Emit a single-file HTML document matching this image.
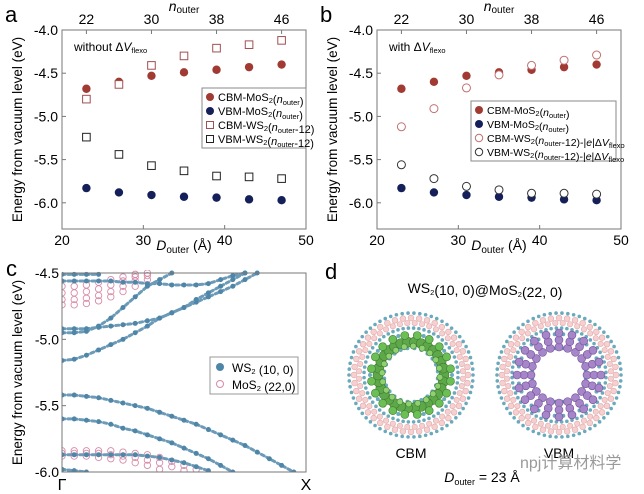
<!DOCTYPE html>
<html><head><meta charset="utf-8">
<style>
html,body{margin:0;padding:0;background:#fff;}
svg{display:block;font-family:"Liberation Sans","Noto Sans CJK SC",sans-serif;}
</style></head>
<body>
<svg id="fig" width="644" height="494" viewBox="0 0 644 494" xmlns="http://www.w3.org/2000/svg">
<g id="gA"></g>
<g id="gB"></g>
<g id="gC"></g>
<g id="gD"></g>
</svg>
<script>
// ---- data panels a/b ----
const dOuter = [23, 27, 31, 35, 39, 43, 47];
const nTicks = [22, 30, 38, 46];
const xTicks = [20, 30, 40, 50];
const yTicks = [-4.0, -4.5, -5.0, -5.5, -6.0];
const cbmMoS2 = [-4.68, -4.60, -4.53, -4.49, -4.46, -4.43, -4.40];
const vbmMoS2 = [-5.83, -5.88, -5.91, -5.93, -5.94, -5.96, -5.97];
const cbmWS2a = [-4.80, -4.63, -4.41, -4.30, -4.21, -4.17, -4.12];
const vbmWS2a = [-5.24, -5.44, -5.57, -5.63, -5.69, -5.70, -5.72];
const cbmWS2b = [-5.12, -4.91, -4.67, -4.52, -4.41, -4.35, -4.29];
const vbmWS2b = [-5.56, -5.72, -5.81, -5.85, -5.89, -5.89, -5.90];
// ---- data panel c (energies at k = 0,0.05,...,1; null = off-scale) ----
const kSteps = 21;
const cTicks = [-4.5, -5.0, -5.5, -6.0];
const wsBandVB1 = [-5.42,-5.42,-5.43,-5.44,-5.46,-5.48,-5.50,-5.52,-5.55,-5.58,-5.61,-5.64,-5.68,-5.72,-5.76,-5.80,-5.85,-5.90,-5.95,-6.0,null];
const wsBandVB2 = [-5.60,-5.60,-5.61,-5.62,-5.64,-5.67,-5.69,-5.72,-5.75,-5.78,-5.82,-5.86,-5.90,-5.95,-6.0];
const wsBandVB3 = [-5.87,-5.87,-5.87,-5.87,-5.87,-5.87,-5.87,-5.88,-5.89,-5.91,-5.93,-5.96,-5.99];
const wsBandVB4 = [-5.98,-5.99,-6.0];
const wsBandCB1 = [-5.16,-5.15,-5.12,-5.08,-5.04,-5.00,-4.95,-4.90,-4.84,-4.80,-4.76,-4.72,-4.68,-4.64,-4.60,-4.55,-4.50];
const wsBandCB2 = [-4.92,-4.92,-4.92,-4.91,-4.90,-4.89,-4.88,-4.86,-4.84,-4.80,-4.76,-4.70,-4.65,-4.60,-4.55,-4.50];
const wsBandCB3 = [-4.95,-4.95,-4.94,-4.90,-4.84,-4.76,-4.68,-4.60,-4.55,-4.50];
const wsBandCB4 = [-4.56,-4.56,-4.56,-4.56,-4.56,-4.57,-4.57,-4.58,-4.58,-4.59,-4.59,-4.59,-4.58,-4.55,-4.52,-4.50];
const wsBandCB5 = [-4.51,-4.51,-4.51,-4.51];
const moBandCB1 = [-4.60,-4.60,-4.59,-4.57,-4.55,-4.53,-4.51];
const moBandCB2 = [-4.65,-4.65,-4.64,-4.62,-4.59,-4.56,-4.53,-4.50];
const moBandCB3 = [-4.70,-4.70,-4.69,-4.67,-4.64,-4.60,-4.56,-4.52];
const moBandCB4 = [-4.74,-4.74,-4.73,-4.71,-4.68,-4.64,-4.60,-4.55];
const moBandVB1 = [-5.84,-5.84,-5.84,-5.84,-5.84,-5.85,-5.86,-5.87,-5.89,-5.92,-5.95,-5.98];
const moBandVB2 = [-5.86,-5.86,-5.86,-5.86,-5.87,-5.88,-5.89,-5.91,-5.93,-5.96,-5.99];
const moBandVB3 = [-5.88,-5.88,-5.88,-5.89,-5.90,-5.91,-5.93,-5.95,-5.98];

const NS='http://www.w3.org/2000/svg';
function mk(p,tag,at,txt){const e=document.createElementNS(NS,tag);for(const k in at)e.setAttribute(k,at[k]);if(txt!==undefined)e.textContent=txt;p.appendChild(e);return e;}

function scatterPanel(g,x0,letter,cbW,vbW,shape,label,legendItems,lx,ly,lw,lfs){
  const x1=x0+244, yT=30, yB=229;
  const sx=v=>x0+(v-20)/30*244;
  const sy=v=>yT+(-4.0-v)/0.5*43.2;
  let e;
  e=mk(g,'text',{x:x0-57,y:22,'font-size':22},letter);
  
  
  e=mk(g,'rect',{x:x0,y:yT,width:244,height:yB-yT,fill:'none',stroke:'#777','stroke-width':1});
  
  
  xTicks.forEach(t=>{const x=sx(t);mk(g,'line',{x1:x,x2:x,y1:yB,y2:yB-4,stroke:'#777'});
    e=mk(g,'text',{x:x,y:yB+16,'font-size':14,'text-anchor':'middle'},t);
    
    });
  nTicks.forEach((t,i)=>{const x=sx(t+1);mk(g,'line',{x1:x,x2:x,y1:yT,y2:yT+4,stroke:'#777'});
    e=mk(g,'text',{x:x,y:yT-6,'font-size':14,'text-anchor':'middle'},t);
    
    });
  yTicks.forEach(t=>{const y=sy(t);mk(g,'line',{x1:x0,x2:x0+4,y1:y,y2:y,stroke:'#777'});
    e=mk(g,'text',{x:x0-4,y:y+5,'font-size':14,'text-anchor':'end'},t.toFixed(1));
    
    });
  e=mk(g,'text',{x:(x0+x1)/2,y:250,'font-size':14,'text-anchor':'middle'});
  e.innerHTML='<tspan font-style="italic">D</tspan><tspan font-size="10" dy="3">outer</tspan><tspan dy="-3"> (Å)</tspan>';
  
  
  e=mk(g,'text',{x:(x0+x1)/2,y:11,'font-size':14,'text-anchor':'middle'});
  e.innerHTML='<tspan font-style="italic">n</tspan><tspan font-size="10" dy="2">outer</tspan>';
  
  
  e=mk(g,'text',{x:0,y:0,'font-size':13.5,'text-anchor':'middle',transform:`translate(${x0-40},${(yT+yB)/2}) rotate(-90)`},'Energy from vacuum level (eV)');
  
  
  e=mk(g,'text',{x:x0+12,y:51,'font-size':12});
  e.innerHTML=label;
  
  
  const series=[[cbmMoS2,'dot','#a03a33'],[vbmMoS2,'dot','#15205a'],[cbW,shape,'#a05050'],[vbW,shape,'#222']];
  series.forEach((s,si)=>{s[0].forEach((v,i)=>{const x=sx(dOuter[i]),y=sy(v);
    if(s[1]==='dot')e=mk(g,'circle',{cx:x,cy:y,r:4.2,fill:s[2]});
    else if(s[1]==='sq')e=mk(g,'rect',{x:x-3.8,y:y-3.8,width:7.6,height:7.6,fill:'#fff',stroke:s[2],'stroke-width':1});
    else e=mk(g,'circle',{cx:x,cy:y,r:4,fill:'#fff',stroke:si===2?'#c07070':'#333','stroke-width':1});
    
    });});
  e=mk(g,'rect',{x:lx,y:ly,width:lw,height:60,fill:'#fff',stroke:'#888'});
  
  
  legendItems.forEach((it,i)=>{const y=ly+9+i*14;
    if(series[i][1]==='dot')mk(g,'circle',{cx:lx+8,cy:y,r:4,fill:series[i][2]});
    else if(series[i][1]==='sq')mk(g,'rect',{x:lx+4.5,y:y-3.5,width:7,height:7,fill:'#fff',stroke:series[i][2]});
    else mk(g,'circle',{cx:lx+8,cy:y,r:3.7,fill:'#fff',stroke:i===2?'#c07070':'#333'});
    e=mk(g,'text',{x:lx+16,y:y+4,'font-size':lfs});
    e.innerHTML=it;
    
    });
}
const sub=s=>`<tspan font-size="7.5" dy="2">${s}</tspan><tspan dy="-2"></tspan>`;
const nO=`(<tspan font-style="italic">n</tspan>${sub('outer')}`;
scatterPanel(document.getElementById('gA'),62,'a',cbmWS2a,vbmWS2a,'sq','without Δ<tspan font-style="italic">V</tspan>'+sub('flexo'),
 ['CBM-MoS'+sub('2')+nO+')','VBM-MoS'+sub('2')+nO+')','CBM-WS'+sub('2')+nO+'-12)','VBM-WS'+sub('2')+nO+'-12)'],202,88,104,11);
scatterPanel(document.getElementById('gB'),377,'b',cbmWS2b,vbmWS2b,'circ','with Δ<tspan font-style="italic">V</tspan>'+sub('flexo'),
 ['CBM-MoS'+sub('2')+nO+')','VBM-MoS'+sub('2')+nO+')','CBM-WS'+sub('2')+nO+'-12)-|<tspan font-style="italic">e</tspan>|Δ<tspan font-style="italic">V</tspan>'+sub('flexo'),'VBM-WS'+sub('2')+nO+'-12)-|<tspan font-style="italic">e</tspan>|Δ<tspan font-style="italic">V</tspan>'+sub('flexo')],471,101,145,10.5);

// ---- panel c ----
(function(){
  const g=document.getElementById('gC');let e;
  const x0=62,x1=306,yT=273,yB=472;
  const kx=i=>x0+i/(kSteps-1)*(x1-x0);
  const ey=v=>yT+(-4.5-v)/1.5*(yB-yT);
  e=mk(g,'text',{x:6,y:276,'font-size':22},'c');
  
  
  const clip=mk(g,'clipPath',{id:'cclip'});mk(clip,'rect',{x:x0,y:yT-3,width:x1-x0,height:yB-yT+3});
  const bands=mk(g,'g',{'clip-path':'url(#cclip)'});
  [moBandCB1,moBandCB2,moBandCB3,moBandCB4,moBandVB1,moBandVB2,moBandVB3].forEach(b=>{b.forEach((v,i)=>{if(v===null)return;
    e=mk(bands,'circle',{cx:kx(i),cy:ey(v),r:3.2,fill:'none',stroke:'#d98aa8','stroke-width':0.9});
    
    });});
  [wsBandVB1,wsBandVB2,wsBandVB3,wsBandVB4,wsBandCB1,wsBandCB2,wsBandCB3,wsBandCB4,wsBandCB5].forEach(b=>{
    const pts=b.map((v,i)=>v===null?null:[kx(i),ey(v)]).filter(p=>p);
    mk(bands,'polyline',{points:pts.map(p=>p.join(',')).join(' '),fill:'none',stroke:'#6b9bb8','stroke-width':3,'stroke-dasharray':'3 3','stroke-linecap':'round'});
    pts.forEach(p=>{e=mk(bands,'circle',{cx:p[0],cy:p[1],r:2.5,fill:'#4f86a8'});
    
    });});
  e=mk(g,'rect',{x:x0,y:yT,width:x1-x0,height:yB-yT,fill:'none',stroke:'#777'});
  
  
  cTicks.forEach(t=>{const y=ey(t);mk(g,'line',{x1:x0,x2:x0+4,y1:y,y2:y,stroke:'#777'});
    e=mk(g,'text',{x:x0-3,y:y+5,'font-size':14,'text-anchor':'end'},t.toFixed(1));
    
    });
  e=mk(g,'text',{x:x0,y:490,'font-size':16,'text-anchor':'middle'},'Γ');
  
  
  e=mk(g,'text',{x:x1,y:490,'font-size':16,'text-anchor':'middle'},'X');
  
  
  e=mk(g,'text',{x:0,y:0,'font-size':13.5,'text-anchor':'middle',transform:`translate(22,${(yT+yB)/2}) rotate(-90)`},'Energy from vacuum level (eV)');
  
  
  e=mk(g,'rect',{x:210,y:357,width:88,height:37,fill:'#fff',stroke:'#999'});
  
  
  mk(g,'circle',{cx:220,cy:367,r:4,fill:'#4f86a8'});
  mk(g,'circle',{cx:220,cy:384,r:3.5,fill:'none',stroke:'#d98aa8'});
  e=mk(g,'text',{x:232,y:372,'font-size':12});e.innerHTML='WS'+sub('2')+' (10, 0)';
  
  
  e=mk(g,'text',{x:232,y:389,'font-size':12});e.innerHTML='MoS'+sub('2')+' (22,0)';
  
  
})();

// ---- panel d ----
(function(){
  const g=document.getElementById('gD');let e;
  e=mk(g,'text',{x:325,y:279,'font-size':22},'d');
  
  
  e=mk(g,'text',{x:485,y:293,'font-size':14,'text-anchor':'middle'});e.innerHTML='WS'+sub('2')+'(10, 0)@MoS'+sub('2')+'(22, 0)';
  
  
  function ring(p,cx,cy,r,n,rad,fill,stroke,off){for(let i=0;i<n;i++){const a=(i+(off||0))/n*2*Math.PI;
    mk(p,'circle',{cx:cx+r*Math.cos(a),cy:cy+r*Math.sin(a),r:rad,fill:fill,stroke:stroke||'none','stroke-width':0.6});}}
  function tube(cx,cy,kind){
    const t=mk(g,'g',{});
    
    
    ring(t,cx,cy,62,66,1.8,'#6aaabd');ring(t,cx,cy,47,56,1.8,'#6aaabd',null,0.5);
    ring(t,cx,cy,57,44,2.9,'#f6d0d0','#e0a8a8');ring(t,cx,cy,52,44,2.7,'#f6d0d0','#e0a8a8',0.5);
    ring(t,cx,cy,41,30,2,'#6aaabd');ring(t,cx,cy,27,24,2,'#6aaabd',null,0.5);ring(t,cx,cy,34,20,2.8,'#f6d0d0','#e0a8a8');
    if(kind==='c'){ring(t,cx,cy,33,30,5,'#5ea84a','#3c7d30');ring(t,cx,cy,40,20,4,'#6cbf55','#3c7d30',0.5);ring(t,cx,cy,29,20,3,'#8fd070','#3c7d30',0.25);}
    else{for(let i=0;i<20;i++){const a=i/20*2*Math.PI;[28,35,42].forEach(r=>mk(t,'circle',{cx:cx+r*Math.cos(a),cy:cy+r*Math.sin(a),r:4,fill:'#a686c8',stroke:'#6f4f98','stroke-width':0.6}));}}
  }
  tube(411,375,'c');tube(559,375,'v');
  e=mk(g,'text',{x:411,y:458,'font-size':14,'text-anchor':'middle'},'CBM');
  
  
  e=mk(g,'text',{x:559,y:458,'font-size':14,'text-anchor':'middle'},'VBM');
  
  
  e=mk(g,'text',{x:482,y:482,'font-size':14,'text-anchor':'middle'});
  e.innerHTML='<tspan font-style="italic">D</tspan><tspan font-size="9" dy="3">outer</tspan><tspan dy="-3"> =  23 Å</tspan>';
  
  
  e=mk(g,'text',{x:520,y:468,'font-size':16,fill:'#9a9a9a'},'npj计算材料学');
  
  
})();
</script>
</body></html>
